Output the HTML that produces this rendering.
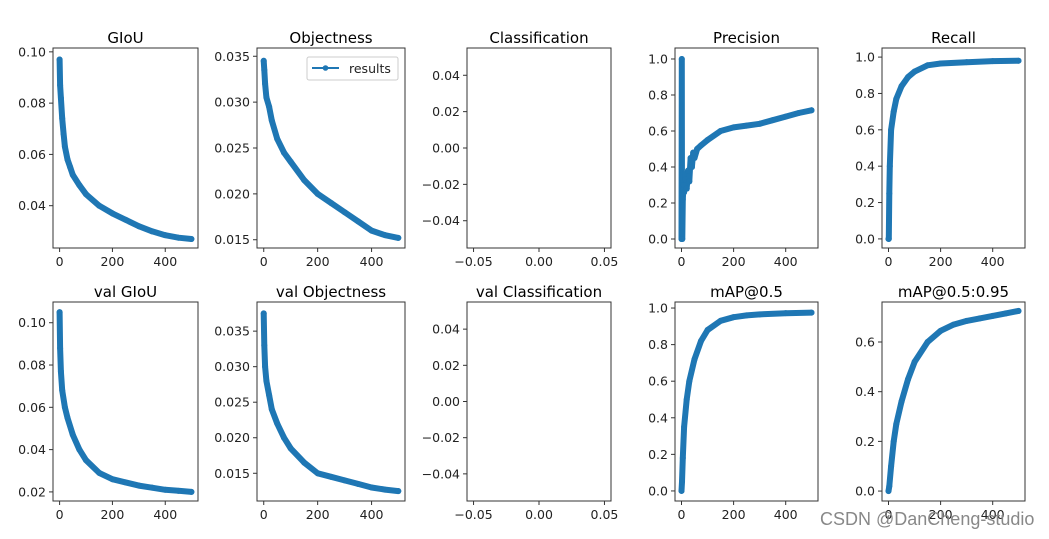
<!DOCTYPE html>
<html><head><meta charset="utf-8">
<style>
html,body{margin:0;padding:0;background:#fff;}
svg{display:block;font-family:"DejaVu Sans","Liberation Sans",sans-serif;}
</style></head>
<body>
<svg id="chart" width="1049" height="539" viewBox="0 0 1049 539" xmlns="http://www.w3.org/2000/svg">
<rect width="1049" height="539" fill="#fff"/>
</svg>
<script>
// ---- data ----
const giouX = [0,2,5,10,15,20,30,40,50,75,100,150,200,250,300,350,400,450,499];
const giouY = [0.097,0.087,0.082,0.074,0.068,0.063,0.058,0.055,0.052,0.048,0.0445,0.040,0.037,0.0345,0.032,0.030,0.0285,0.0275,0.027];
const objX = [0,2,5,10,20,30,50,75,100,150,200,250,300,350,400,450,499];
const objY = [0.0345,0.0335,0.032,0.0305,0.0295,0.028,0.026,0.0245,0.0235,0.0215,0.020,0.019,0.018,0.017,0.016,0.0155,0.0152];
const precX = [0,1,2,3,5,8,10,15,20,25,30,35,40,45,50,60,75,100,150,200,250,300,350,400,450,499];
const precY = [0,1.0,0.07,0.0,0.22,0.30,0.26,0.33,0.28,0.38,0.32,0.45,0.40,0.48,0.45,0.50,0.52,0.55,0.60,0.62,0.63,0.64,0.66,0.68,0.70,0.715];
const recX = [0,1,3,5,10,20,30,50,75,100,150,200,300,400,499];
const recY = [0,0,0.25,0.40,0.60,0.70,0.77,0.84,0.89,0.92,0.955,0.965,0.972,0.978,0.98];
const vgiouX = [0,2,5,10,20,30,50,75,100,150,200,250,300,350,400,450,499];
const vgiouY = [0.105,0.088,0.077,0.068,0.060,0.055,0.047,0.040,0.035,0.029,0.026,0.0245,0.023,0.022,0.021,0.0205,0.020];
const vobjX = [0,2,5,10,20,30,50,75,100,150,200,250,300,350,400,450,499];
const vobjY = [0.0375,0.033,0.030,0.028,0.026,0.024,0.022,0.020,0.0185,0.0165,0.015,0.0145,0.014,0.0135,0.013,0.0127,0.0125];
const map5X = [0,2,5,10,20,30,50,75,100,150,200,250,300,400,499];
const map5Y = [0,0.05,0.18,0.35,0.50,0.60,0.72,0.82,0.88,0.93,0.95,0.96,0.965,0.972,0.975];
const map95X = [0,3,10,20,30,50,75,100,150,200,250,300,350,400,450,499];
const map95Y = [0,0.02,0.10,0.20,0.27,0.36,0.45,0.52,0.60,0.645,0.67,0.685,0.695,0.705,0.715,0.725];
const epochTicks = [0,200,400];

const svg = document.getElementById('chart');
const NS = 'http://www.w3.org/2000/svg';
function mk(tag, attrs, parent){ const e=document.createElementNS(NS,tag); for(const k in attrs) e.setAttribute(k,attrs[k]); (parent||svg).appendChild(e); return e; }

const colL=[53,257,467,675,882], colR=[198,405,611,818,1025];
const rowT=[48,302], rowB=[248,501];

const panels = [
 {t:'GIoU',r:0,c:0,x:giouX,y:giouY,yl:[0.0235,0.1015],yt:[0.04,0.06,0.08,0.10],f:2},
 {t:'Objectness',r:0,c:1,x:objX,y:objY,yl:[0.0141,0.0359],yt:[0.015,0.020,0.025,0.030,0.035],f:3,legend:true},
 {t:'Classification',r:0,c:2,empty:true},
 {t:'Precision',r:0,c:3,x:precX,y:precY,yl:[-0.05,1.061],yt:[0,0.2,0.4,0.6,0.8,1.0],f:1},
 {t:'Recall',r:0,c:4,x:recX,y:recY,yl:[-0.05,1.05],yt:[0,0.2,0.4,0.6,0.8,1.0],f:1},
 {t:'val GIoU',r:1,c:0,x:vgiouX,y:vgiouY,yl:[0.0157,0.1098],yt:[0.02,0.04,0.06,0.08,0.10],f:2},
 {t:'val Objectness',r:1,c:1,x:vobjX,y:vobjY,yl:[0.0111,0.0391],yt:[0.015,0.020,0.025,0.030,0.035],f:3},
 {t:'val Classification',r:1,c:2,empty:true},
 {t:'mAP@0.5',r:1,c:3,x:map5X,y:map5Y,yl:[-0.055,1.033],yt:[0,0.2,0.4,0.6,0.8,1.0],f:1},
 {t:'mAP@0.5:0.95',r:1,c:4,x:map95X,y:map95Y,yl:[-0.04,0.761],yt:[0,0.2,0.4,0.6],f:1}
];

function fmt(v,f){ const s=v.toFixed(f); return v<0? '\u2212'+s.slice(1):s; }

panels.forEach(p=>{
  const L=colL[p.c],R=colR[p.c],T=rowT[p.r],B=rowB[p.r];
  const slug=p.t.toLowerCase().replace(/[^a-z0-9]+/g,'-');
  const g=mk('g',{});
  
  
  let xl,yl,xt,yt,xf,yf;
  if(p.empty){ xl=[-0.055,0.055]; yl=[-0.055,0.055]; xt=[-0.05,0,0.05]; yt=[-0.04,-0.02,0,0.02,0.04]; xf=2; yf=2; }
  else { xl=[-25,524]; yl=p.yl; xt=epochTicks; yt=p.yt; xf=0; yf=p.f; }
  const sx=v=>L+(v-xl[0])/(xl[1]-xl[0])*(R-L);
  const sy=v=>B-(v-yl[0])/(yl[1]-yl[0])*(B-T);
  const title=mk('text',{x:(L+R)/2,y:T-5,'text-anchor':'middle','font-size':15,fill:'#000'},g);
  title.textContent=p.t;
  
  
  if(!p.empty){
    const d=p.x.map((xv,i)=>(i?'L':'M')+sx(xv).toFixed(1)+','+sy(p.y[i]).toFixed(1)).join(' ');
    const band=mk('path',{d:d,fill:'none',stroke:'#1f77b4','stroke-width':6,'stroke-linejoin':'round','stroke-linecap':'round'},g);
    
    
    mk('path',{d:d,fill:'none',stroke:'#1f77b4','stroke-width':1.5},g);
    p.x.forEach((xv,i)=>{
      const c=mk('circle',{cx:sx(xv),cy:sy(p.y[i]),r:3,fill:'#1f77b4'},g);
      
      
    });
  }
  const fr=mk('rect',{x:L,y:T,width:R-L,height:B-T,fill:'none',stroke:'#333','stroke-width':1},g);
  
  
  xt.forEach(v=>{
    const x=sx(v);
    mk('line',{x1:x,y1:B,x2:x,y2:B+4,stroke:'#333'},g);
    const t=mk('text',{x:x,y:B+18,'text-anchor':'middle','font-size':12.5,fill:'#222'},g);
    t.textContent=fmt(v,xf);
    
    
  });
  yt.forEach(v=>{
    const y=sy(v);
    mk('line',{x1:L-4,y1:y,x2:L,y2:y,stroke:'#333'},g);
    const t=mk('text',{x:L-7,y:y+4.5,'text-anchor':'end','font-size':12.5,fill:'#222'},g);
    t.textContent=fmt(v,yf);
    
    
  });
  if(p.legend){
    const lg=mk('g',{},g);
    
    
    mk('rect',{x:307,y:57,width:91,height:23,rx:2,fill:'#fff',stroke:'#ccc'},lg);
    mk('line',{x1:312,y1:68,x2:339,y2:68,stroke:'#1f77b4','stroke-width':2},lg);
    mk('circle',{cx:325.5,cy:68,r:2.8,fill:'#1f77b4'},lg);
    const lt=mk('text',{x:349,y:73,'font-size':12.5,fill:'#222'},lg);
    lt.textContent='results';
    
    
  }
});
const wm=mk('text',{x:820,y:525,'font-size':18,fill:'#888','font-family':'Liberation Sans, sans-serif'});
wm.textContent='CSDN @DanCheng-studio';


</script>
</body></html>
